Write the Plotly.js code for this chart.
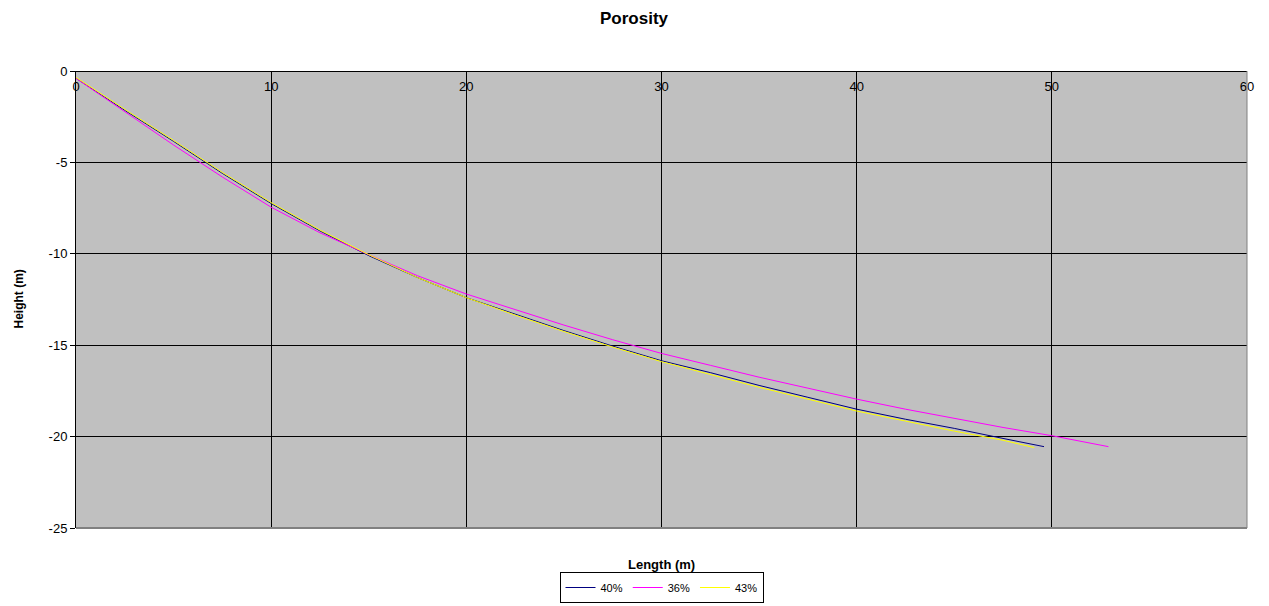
<!DOCTYPE html>
<html>
<head>
<meta charset="utf-8">
<script src="https://cdn.plot.ly/plotly-3.0.1.min.js"></script>
<style>
  html, body { margin: 0; padding: 0; background: #ffffff; }
  #chart { width: 1269px; height: 606px; }
</style>
</head>
<body>
<div id="chart"></div>
<script>
// Series: Length (m) vs Height (m)
const x40 = [0, 2.5, 5, 7.5, 10, 12.5, 15, 17.5, 20, 22.5, 25, 27.5, 30, 32.5, 35, 37.5, 40, 42.5, 45, 47.5, 49.6];
const y40 = [-0.4, -2.15, -3.85, -5.6, -7.25, -8.75, -10.1, -11.3, -12.4, -13.3, -14.2, -15.05, -15.85, -16.5, -17.2, -17.85, -18.5, -19.05, -19.55, -20.1, -20.55];

const x36 = [0, 2.5, 5, 7.5, 10, 12.5, 15, 17.5, 20, 22.5, 25, 27.5, 30, 32.5, 35, 37.5, 40, 42.5, 45, 47.5, 50, 52.9];
const y36 = [-0.4, -2.2, -4.05, -5.8, -7.45, -8.85, -10.05, -11.2, -12.2, -13.05, -13.9, -14.7, -15.45, -16.1, -16.75, -17.35, -17.95, -18.5, -19.0, -19.5, -19.95, -20.55];

const x43 = [0, 2.5, 5, 7.5, 10, 12.5, 15, 17.5, 20, 22.5, 25, 27.5, 30, 32.5, 35, 37.5, 40, 42.5, 45, 47.5, 49.1];
const y43 = [-0.35, -2.1, -3.8, -5.55, -7.2, -8.7, -10.05, -11.3, -12.4, -13.35, -14.25, -15.1, -15.9, -16.6, -17.3, -17.95, -18.6, -19.15, -19.7, -20.2, -20.6];

const seriesNames = ['40%', '36%', '43%'];
const xTicks = [0, 10, 20, 30, 40, 50, 60];
const yTicks = [-25, -20, -15, -10, -5, 0];

const FONT = 'Liberation Sans, Arial, sans-serif';

const traces = [
  { x: x40, y: y40, name: seriesNames[0], mode: 'lines', line: { color: '#000080', width: 1 } },
  { x: x36, y: y36, name: seriesNames[1], mode: 'lines', line: { color: '#FF00FF', width: 1 } },
  { x: x43, y: y43, name: seriesNames[2], mode: 'lines', line: { color: '#FFFF00', width: 1 } },
  // carrier for the label axis placed along y = 0 (top)
  { x: [xTicks[0], xTicks[xTicks.length - 1]], y: [yTicks[0], yTicks[0]], xaxis: 'x2', mode: 'lines',
    line: { color: 'rgba(0,0,0,0)', width: 0 }, showlegend: false, hoverinfo: 'skip' }
];

const layout = {
  width: 1269,
  height: 606,
  paper_bgcolor: '#ffffff',
  plot_bgcolor: '#C0C0C0',
  margin: { l: 76, r: 22, t: 71, b: 78, autoexpand: false },
  font: { family: FONT, size: 13, color: '#000000' },
  showlegend: true,
  legend: {
    orientation: 'h',
    x: 0.5, xanchor: 'center',
    y: -(603 - 528) / 457, yanchor: 'bottom',
    bordercolor: '#000000', borderwidth: 1,
    bgcolor: '#ffffff',
    font: { family: FONT, size: 11, color: '#000000' },
    itemwidth: 30,
    tracegroupgap: 0
  },
  xaxis: {
    range: [0, 60],
    tickvals: xTicks,
    showticklabels: false,
    ticks: '',
    showgrid: true,
    gridcolor: '#000000',
    gridwidth: 1,
    zeroline: false,
    showline: false,
    fixedrange: true
  },
  xaxis2: {
    overlaying: 'x',
    matches: 'x',
    range: [0, 60],
    anchor: 'free',
    position: 1,
    side: 'bottom',
    tickvals: xTicks,
    ticktext: xTicks.map(String),
    ticks: '',
    ticklabelstandoff: 3,
    showgrid: false,
    zeroline: false,
    showline: true,
    linecolor: '#000000',
    linewidth: 1,
    tickfont: { family: FONT, size: 13, color: '#000000' },
    fixedrange: true
  },
  yaxis: {
    range: [-25, 0],
    tickvals: yTicks,
    ticktext: yTicks.map(String),
    ticks: 'outside',
    ticklen: 5,
    tickcolor: '#000000',
    showgrid: true,
    gridcolor: '#000000',
    gridwidth: 1,
    zeroline: false,
    showline: true,
    linecolor: '#000000',
    linewidth: 1,
    tickfont: { family: FONT, size: 13, color: '#000000' },
    fixedrange: true
  },
  shapes: [
    { type: 'line', xref: 'paper', yref: 'paper', x0: 1, x1: 1, y0: 0, y1: 1, line: { color: '#808080', width: 1 } },
    { type: 'line', xref: 'paper', yref: 'paper', x0: 0, x1: 1, y0: 0, y1: 0, line: { color: '#808080', width: 2 } }
  ],
  annotations: [
    { text: '<b>Porosity</b>', xref: 'paper', yref: 'paper', x: (634 - 76) / 1171, y: 1 + (71 - 19) / 457,
      xanchor: 'center', yanchor: 'middle', showarrow: false, font: { family: FONT, size: 17, color: '#000000' } },
    { text: '<b>Length (m)</b>', xref: 'paper', yref: 'paper', x: 0.5, y: -(564 - 528) / 457,
      xanchor: 'center', yanchor: 'middle', showarrow: false, font: { family: FONT, size: 13, color: '#000000' } },
    { text: '<b>Height (m)</b>', xref: 'paper', yref: 'paper', x: -(76 - 18) / 1171, y: 0.5,
      xanchor: 'center', yanchor: 'middle', textangle: -90, showarrow: false, font: { family: FONT, size: 12, color: '#000000' } }
  ]
};

Plotly.newPlot('chart', traces, layout, { displayModeBar: false, staticPlot: true });
</script>
</body>
</html>
